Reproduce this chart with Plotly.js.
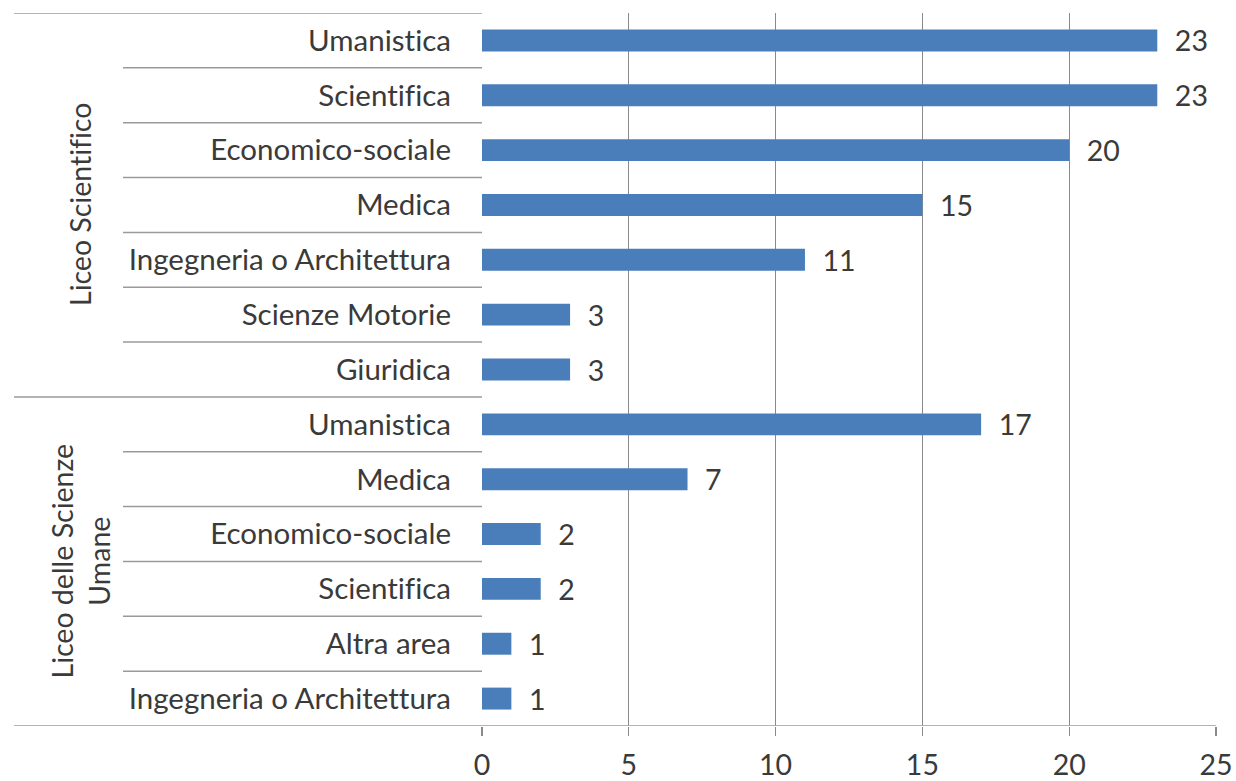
<!DOCTYPE html>
<html><head><meta charset="utf-8">
<script src="https://cdn.plot.ly/plotly-3.0.1.min.js"></script>
<style>body{margin:0;background:#fff}#c{width:1236px;height:781px}
text{font-variant-ligatures:none !important;font-feature-settings:"liga" 0 !important}</style>
</head><body><div id="c"></div>
<script>
const groups = ["Liceo Scientifico", "Liceo delle Scienze<br>Umane"];
const groupOf = [0,0,0,0,0,0,0,1,1,1,1,1,1];
const categories = ["Umanistica","Scientifica","Economico-sociale","Medica","Ingegneria o Architettura","Scienze Motorie","Giuridica",
  "Umanistica","Medica","Economico-sociale","Scientifica","Altra area","Ingegneria o Architettura"];
const values = [23,23,20,15,11,3,3,17,7,2,2,1,1];
const xTicks = [0,5,10,15,20,25];

const FONT = "Lato, 'Open Sans', sans-serif";
const FS = 29.5;
const TXT = "#3a3a3a";
const LINE = "#9a9a9a";
const L = 482, R = 20, W = 1236;
const plotW = W - L - R;
const px2paper = p => (p - L) / plotW;

const idx = categories.map((_, i) => i);
const n = categories.length;

const shapes = [];
shapes.push({type:'line', xref:'paper', yref:'y', x0:px2paper(14), x1:0, y0:-0.5, y1:-0.5, line:{color:LINE, width:1.5}});
for (let i = 0; i < n - 1; i++) {
  const newGroup = groupOf[i] !== groupOf[i+1];
  shapes.push({type:'line', xref:'paper', yref:'y', x0:px2paper(newGroup ? 14 : 123), x1:0, y0:i+0.5, y1:i+0.5, line:{color:LINE, width:1.5}});
}
shapes.push({type:'line', xref:'paper', yref:'y', x0:px2paper(14), x1:1, y0:n-0.5, y1:n-0.5, line:{color:LINE, width:1.5}});

const annotations = groups.map((g, gi) => {
  const rows = idx.filter(i => groupOf[i] === gi);
  const c = (rows[0] + rows[rows.length-1]) / 2;
  return {text:g, xref:'paper', yref:'y', x:px2paper(80), y:c, xanchor:'center', yanchor:'middle',
    textangle:-90, showarrow:false, font:{family:FONT, size:FS - 1, color:TXT}};
});

const trace = {
  type:'bar', orientation:'h', x:values, y:idx,
  marker:{color:'#4a7ebb'},
  text:values.map(v => '\u00a0\u00a0' + v), textposition:'outside', cliponaxis:false, constraintext:'none',
  textfont:{family:FONT, size:FS - 1, color:TXT},
  hoverinfo:'skip'
};

Plotly.newPlot('c', [trace], {
  width:1236, height:781,
  margin:{l:L, r:R, t:13, b:55, pad:0},
  paper_bgcolor:'#fff', plot_bgcolor:'#fff',
  showlegend:false, bargap:0.6,
  font:{family:FONT, size:FS, color:TXT},
  xaxis:{range:[0,25], tickvals:xTicks, ticktext:xTicks.map(String), showgrid:true, gridcolor:'#8a8a8a', gridwidth:1.2,
    zeroline:false, showline:false, ticks:'outside', ticklen:9, tickcolor:'#8a8a8a', tickwidth:1.2, ticklabelstandoff:5,
    tickfont:{family:FONT, size:FS - 1, color:TXT}, fixedrange:true},
  yaxis:{range:[n-0.5, -0.5], tickvals:idx, ticktext:categories, showgrid:false, zeroline:false, showline:false,
    ticks:'', ticklabelstandoff:30, tickfont:{family:FONT, size:FS, color:TXT}, fixedrange:true},
  shapes, annotations
}, {displayModeBar:false, staticPlot:true});
</script></body></html>
